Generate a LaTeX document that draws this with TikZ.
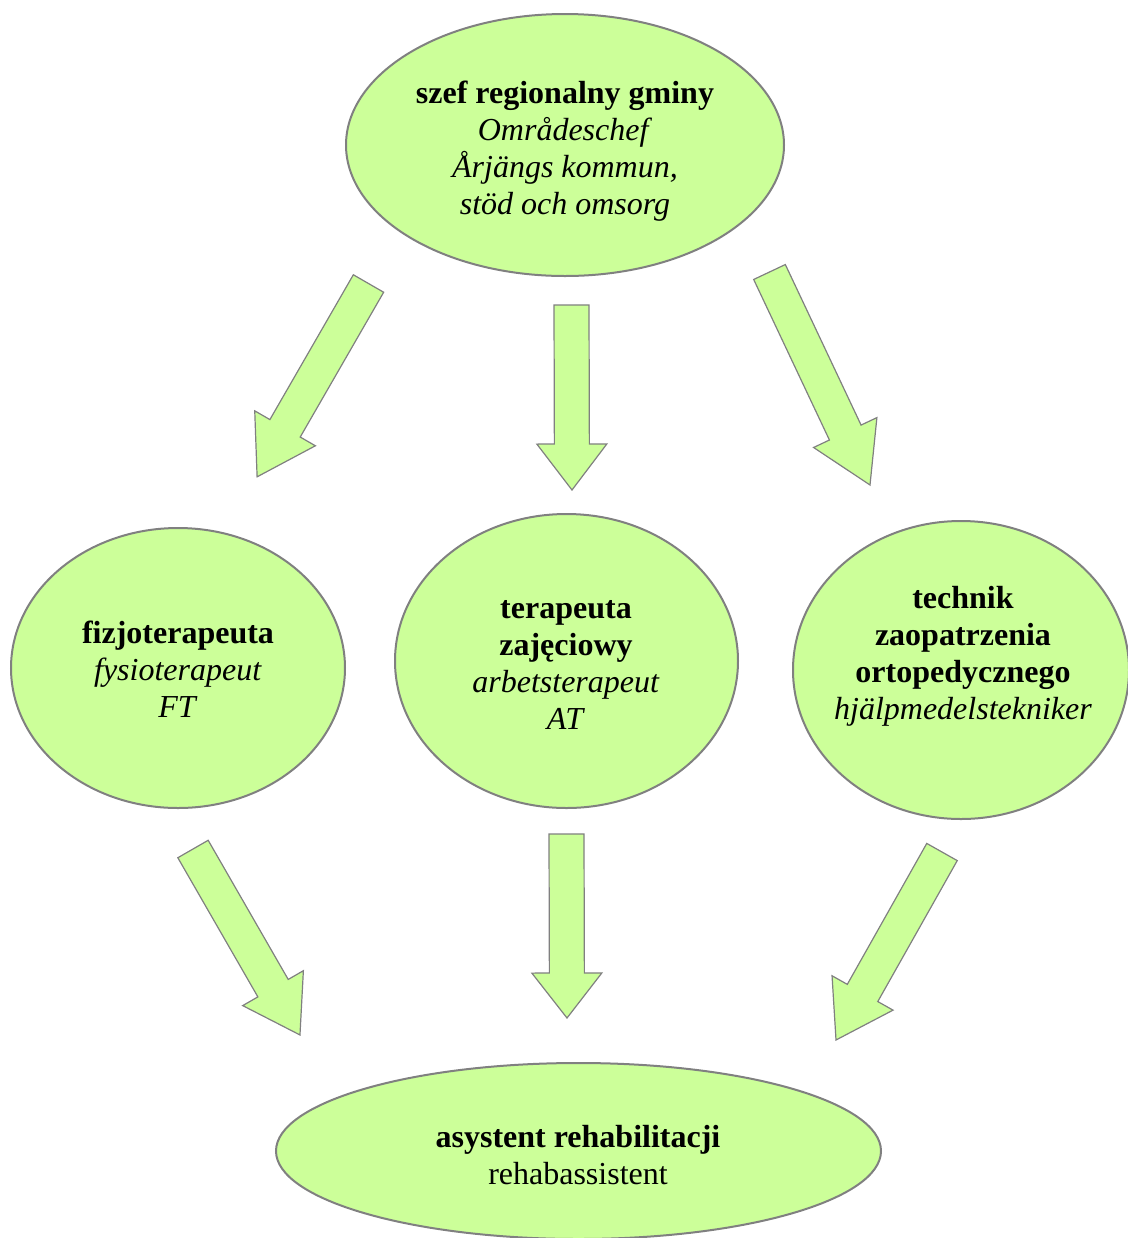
\documentclass[tikz,border=0pt]{standalone}
\usepackage{fontspec}
\setmainfont{Liberation Serif}
\usetikzlibrary{shapes.geometric,calc}
\definecolor{bubblegreen}{HTML}{CCFF99}
\definecolor{rimgray}{HTML}{808080}

% block arrow from tail to tip, #3 = head length
\newcommand{\fatarrow}[3]{%
	\draw[fatbody] let \p1=($(#2)-(#1)$), \n1={atan2(\y1,\x1)}, \n2={veclen(\x1,\y1)} in
		[shift={(#1)}, rotate=\n1]
		(0pt,8.75pt) -- (\n2-#3,8.75pt) -- (\n2-#3,17.5pt) -- (\n2,0pt)
		-- (\n2-#3,-17.5pt) -- (\n2-#3,-8.75pt) -- (0pt,-8.75pt) -- cycle;}

\begin{document}
\begin{tikzpicture}[x=0.5pt, y=-0.5pt,
	bubble/.style={ellipse, draw=rimgray, line width=1pt, fill=bubblegreen, inner sep=0pt},
	fatbody/.style={draw=rimgray, line width=0.6pt, fill=bubblegreen, line join=miter},
	txt/.style={align=center, font=\fontsize{16}{18.5}\selectfont}]
	\useasboundingbox (0,0) rectangle (1128,1238);

	\node[bubble, minimum width=219pt, minimum height=131pt] (chef) at (565,145) {};
	\node[bubble, minimum width=167pt, minimum height=140pt] (ft) at (178,668) {};
	\node[bubble, minimum width=171.5pt, minimum height=147pt] (at) at (566.5,661) {};
	\node[bubble, minimum width=168pt, minimum height=149pt] (tech) at (961,670) {};
	\node[bubble, minimum width=302.5pt, minimum height=88pt] (rehab) at (578.5,1151) {};

	\node[txt] (chefText) at (565,151) {\textbf{szef regionalny gminy}\\ \textit{Områdeschef}\\ \textit{Årjängs kommun,}\\ \textit{stöd och omsorg}};
	\node[txt] (ftText) at (178,669.5) {\textbf{fizjoterapeuta}\\ \textit{fysioterapeut}\\ \textit{FT}};
	\node[txt] (atText) at (566,665) {\textbf{terapeuta}\\ \textbf{zajęciowy}\\ \textit{arbetsterapeut}\\ \textit{AT}};
	\node[txt] (techText) at (963,656.5) {\textbf{technik}\\ \textbf{zaopatrzenia}\\ \textbf{ortopedycznego}\\ \textit{hjälpmedelstekniker}};
	\node[txt] (rehabText) at (578,1155) {\textbf{asystent rehabilitacji}\\ rehabassistent};

	% arrows chef -> therapists
	\coordinate (t1) at (368.5,283.5); \coordinate (h1) at (257,477);
	\coordinate (t2) at (571.5,305);   \coordinate (h2) at (572,490);
	\coordinate (t3) at (769.5,272);   \coordinate (h3) at (870,485);
	\fatarrow{t1}{h1}{28pt}
	\fatarrow{t2}{h2}{23pt}
	\fatarrow{t3}{h3}{29pt}

	% arrows therapists -> assistant
	\coordinate (t4) at (193,849);   \coordinate (h4) at (300,1035);
	\coordinate (t5) at (566.5,834); \coordinate (h5) at (567,1018);
	\coordinate (t6) at (942,852);   \coordinate (h6) at (836,1040);
	\fatarrow{t4}{h4}{27pt}
	\fatarrow{t5}{h5}{22.5pt}
	\fatarrow{t6}{h6}{27pt}
\end{tikzpicture}
\end{document}
